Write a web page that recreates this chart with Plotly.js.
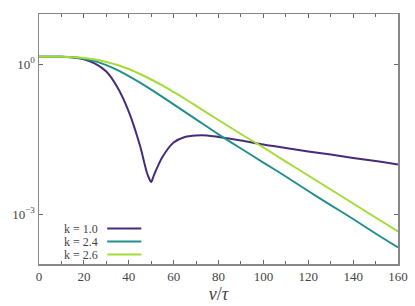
<!DOCTYPE html>
<html>
<head>
<meta charset="utf-8">
<script src="https://cdn.plot.ly/plotly-3.0.1.min.js"></script>
<style>html,body{margin:0;padding:0;background:#fff;}#chart{width:415px;height:306px;}</style>
</head>
<body>
<div id="chart"></div>
<script>
var xPurple = [0,5,10,15,20,25,30,35,40,45,48,49,50,51,52,55,60,65,70,75,80,90,100,110,120,130,140,150,160];
var yK10 = [1.40,1.40,1.39,1.35,1.24,1.02,0.708,0.339,0.112,0.0234,0.00692,0.00525,0.00437,0.00562,0.00724,0.0138,0.0269,0.0347,0.0372,0.0372,0.0347,0.0295,0.0245,0.0209,0.0178,0.0155,0.0132,0.0115,0.00977];
var xOther = [0,5,10,15,20,25,30,35,40,45,50,55,60,65,70,80,90,100,110,120,130,140,150,160];
var yK24 = [1.40,1.40,1.39,1.36,1.28,1.14,0.951,0.755,0.573,0.425,0.308,0.220,0.156,0.110,0.0782,0.0392,0.0204,0.0107,0.00562,0.00288,0.00151,0.000794,0.000407,0.000214];
var yK26 = [1.40,1.40,1.39,1.37,1.32,1.23,1.10,0.955,0.794,0.631,0.490,0.372,0.275,0.202,0.146,0.0759,0.0398,0.0214,0.0112,0.00589,0.00309,0.00162,0.000851,0.000447];
var seriesNames = ['k = 1.0','k = 2.4','k = 2.6'];
var seriesColors = ['#472c7a','#21908d','#a5db36'];
var xTickVals = [0,20,40,60,80,100,120,140,160];
var yTickVals = [1, 0.001];
var yTickText = ['10<sup>0</sup>','10<sup>−3</sup>'];

var xs = [xPurple, xOther, xOther];
var ys = [yK10, yK24, yK26];
var traces = [];
for (var i = 0; i < 3; i++) {
  traces.push({x: xs[i], y: ys[i], mode: 'lines', name: seriesNames[i],
    line: {color: seriesColors[i], width: 2, shape: 'spline', smoothing: 0.8}, showlegend: false});
}
var fam = "'Liberation Serif', 'DejaVu Serif', serif";
var font = {family: fam, size: 13, color: '#444'};
var annotations = [], shapes = [];
var rowY = [0.142, 0.09, 0.038];
for (var i = 0; i < 3; i++) {
  annotations.push({xref: 'paper', yref: 'paper', x: 0.17, y: rowY[i], xanchor: 'right', yanchor: 'middle',
    text: seriesNames[i], showarrow: false, font: {family: fam, size: 12, color: '#444'}});
  shapes.push({type: 'line', xref: 'paper', yref: 'paper', x0: 0.19, x1: 0.285, y0: rowY[i], y1: rowY[i],
    line: {color: seriesColors[i], width: 2}});
}
var layout = {
  width: 415, height: 306,
  margin: {l: 39, r: 17, t: 14, b: 42},
  paper_bgcolor: '#fff', plot_bgcolor: '#fff',
  font: font,
  showlegend: false,
  xaxis: {range: [0, 160], tickvals: xTickVals, ticks: 'inside', ticklen: 4, tickcolor: '#666',
    tickfont: {family: fam, size: 13, color: '#444'},
    showline: true, linecolor: '#888', linewidth: 1.5, mirror: 'ticks', showgrid: false, zeroline: false,
    minor: {dtick: 10, ticks: 'inside', ticklen: 3, tickcolor: '#666'},
    title: {text: '<i>v</i>/<i>τ</i>', font: {family: fam, size: 18, color: '#444'}, standoff: 4}},
  yaxis: {type: 'log', range: [-4, 1], tickvals: yTickVals, ticktext: yTickText, ticks: 'inside', ticklen: 4, tickcolor: '#666',
    tickfont: {family: fam, size: 13, color: '#444'},
    showline: true, linecolor: '#888', linewidth: 1.5, mirror: 'ticks', showgrid: false, zeroline: false},
  annotations: annotations,
  shapes: shapes
};
Plotly.newPlot('chart', traces, layout, {displayModeBar: false, staticPlot: true});
</script>
</body>
</html>
